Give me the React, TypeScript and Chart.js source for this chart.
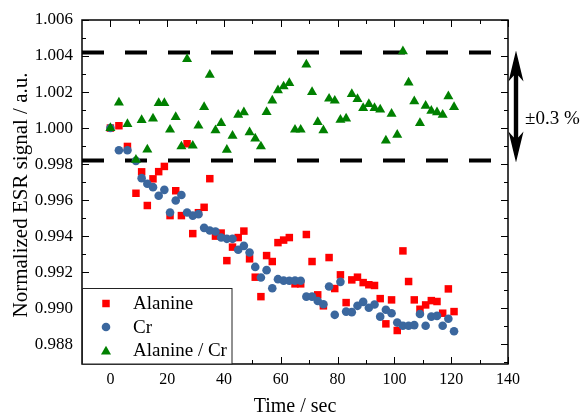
import React, { useEffect, useRef } from 'react';
import { Chart, registerables } from 'chart.js';

Chart.register(...registerables);

const FONT = '"Liberation Serif", "Times New Roman", serif';

const times = [
  0, 3, 6, 9, 11, 13, 15, 17, 19, 21, 23, 25, 27, 29, 31, 33, 35, 37, 39, 41,
  43, 45, 47, 49, 51, 53, 55, 57, 59, 61, 63, 65, 67, 69, 71, 73, 75, 77, 79, 81,
  83, 85, 87, 89, 91, 93, 95, 97, 99, 101, 103, 105, 107, 109, 111, 113, 115, 117, 119, 121,
];

const alanine = [
  1.0, 1.00013, 0.99898, 0.99638,
  0.99757, 0.9957, 0.99718, 0.99758, 0.99787,
  0.99514, 0.99652, 0.99514, 0.99913, 0.99414,
  0.9953, 0.9956, 0.99719, 0.994, 0.99417,
  0.99264, 0.99339, 0.99392, 0.99428, 0.99274,
  0.99172, 0.99064, 0.99292, 0.99259, 0.99364,
  0.99378, 0.99392, 0.99135, 0.99135, 0.99409,
  0.99259, 0.99074, 0.99013, 0.99281, 0.99109,
  0.99185, 0.99031, 0.99157, 0.99172, 0.99142,
  0.9913, 0.99126, 0.99053, 0.98913, 0.99046,
  0.98876, 0.99318, 0.99148, 0.99046, 0.98994,
  0.99018, 0.99042, 0.99037, 0.98972, 0.99107,
  0.98981,
];

const cr = [
  1.0, 0.99877, 0.99877, 0.99818,
  0.99722, 0.99691, 0.99672, 0.99624, 0.99657,
  0.99531, 0.99598, 0.99628, 0.99531, 0.99514,
  0.99522, 0.99446, 0.99431, 0.99426, 0.99392,
  0.99385, 0.99385, 0.99324, 0.99346, 0.99309,
  0.99229, 0.9917, 0.99211, 0.99111, 0.99161,
  0.99153, 0.99152, 0.99153, 0.99152, 0.99064,
  0.99064, 0.9904, 0.99022, 0.9912, 0.98963,
  0.99146, 0.98981, 0.98978, 0.99013, 0.99035,
  0.99002, 0.9902, 0.98953, 0.98991, 0.98972,
  0.9892, 0.98902, 0.98902, 0.98906, 0.98968,
  0.98902, 0.98953, 0.98957, 0.98902, 0.98941,
  0.98872,
];

const ratio = [
  1.0, 1.00142, 1.00022, 0.99824,
  1.00044, 0.99881, 1.00053, 1.00139, 1.00139,
  0.99991, 1.00061, 0.99898, 1.00383, 0.99902,
  1.00013, 1.00117, 1.00296, 0.99987, 1.00028,
  0.99879, 0.99957, 1.00074, 1.00087, 0.99976,
  0.99942, 0.99898, 1.00089, 1.00153, 1.00209,
  1.00231, 1.0025, 0.99991, 0.99991, 1.00352,
  1.002, 1.00033, 0.99987, 1.00163, 1.00152,
  1.00046, 1.00053, 1.00189, 1.00161, 1.00111,
  1.00133, 1.00111, 1.00103, 0.9993, 1.00079,
  0.99963, 1.00426, 1.00253, 1.00148, 1.00028,
  1.00124, 1.00096, 1.00087, 1.00074, 1.00176,
  1.00117,
];

const seriesLabels = ['Alanine', 'Cr', 'Alanine / Cr'];
const seriesColors = ['#ff0000', '#3b679e', '#008000'];

const xTickValues = [0, 20, 40, 60, 80, 100, 120, 140];
const xMinorValues = [10, 30, 50, 70, 90, 110, 130];
const yTickValues = [0.988, 0.99, 0.992, 0.994, 0.996, 0.998, 1.0, 1.002, 1.004, 1.006];
const yMinorValues = [0.987, 0.989, 0.991, 0.993, 0.995, 0.997, 0.999, 1.001, 1.003, 1.005];

const xMin = -10;
const xMax = 140;
const yMin = 0.9869;
const yMax = 1.006;

const limitUpper = 1.0042;
const limitLower = 0.9982;
const limitText = '±0.3 %';

const pts = (vals: number[]) => times.map((t, i) => ({ x: t, y: vals[i] }));

function drawMarker(ctx: CanvasRenderingContext2D, kind: number, x: number, y: number) {
  ctx.fillStyle = seriesColors[kind];
  ctx.beginPath();
  if (kind === 0) {
    const s = 5.3 * Math.SQRT1_2;
    ctx.rect(x - s, y - s, 2 * s, 2 * s);
  } else if (kind === 1) {
    ctx.arc(x, y, 4.3, 0, Math.PI * 2);
  } else {
    const r = 5.8;
    for (let k = 0; k < 3; k++) {
      const a = (k * 2 * Math.PI) / 3;
      const px = x + Math.sin(a) * r;
      const py = y - Math.cos(a) * r;
      if (k === 0) ctx.moveTo(px, py);
      else ctx.lineTo(px, py);
    }
    ctx.closePath();
  }
  ctx.fill();
}

const overlay = {
  id: 'overlay',
  afterDraw(chart: any) {
    const { ctx, chartArea } = chart;
    const { left, right, top, bottom } = chartArea;
    const xs = chart.scales.x;
    const ys = chart.scales.y;
    ctx.save();

    // inward ticks on all four sides
    ctx.strokeStyle = '#000';
    ctx.lineWidth = 1;
    const majorLen = 7;
    const minorLen = 4;
    const tickX = (v: number, len: number) => {
      const px = Math.round(xs.getPixelForValue(v)) + 0.5;
      ctx.beginPath();
      ctx.moveTo(px, bottom);
      ctx.lineTo(px, bottom - len);
      ctx.moveTo(px, top);
      ctx.lineTo(px, top + len);
      ctx.stroke();
    };
    const tickY = (v: number, len: number) => {
      const py = Math.round(ys.getPixelForValue(v)) + 0.5;
      if (py < top || py > bottom) return;
      ctx.beginPath();
      ctx.moveTo(left, py);
      ctx.lineTo(left + len, py);
      ctx.moveTo(right, py);
      ctx.lineTo(right - len, py);
      ctx.stroke();
    };
    xTickValues.forEach((v) => tickX(v, majorLen));
    xMinorValues.forEach((v) => tickX(v, minorLen));
    yTickValues.forEach((v) => tickY(v, majorLen));
    yMinorValues.forEach((v) => tickY(v, minorLen));

    // frame
    ctx.lineWidth = 1.5;
    ctx.strokeRect(left, top, right - left, bottom - top);

    // legend box
    const lgLeft = left;
    const lgTop = 288;
    const lgRight = 232;
    ctx.fillStyle = '#fff';
    ctx.fillRect(lgLeft, lgTop, lgRight - lgLeft, bottom - lgTop);
    ctx.lineWidth = 1;
    ctx.strokeStyle = '#222';
    ctx.strokeRect(lgLeft + 0.5, lgTop + 0.5, lgRight - lgLeft - 0.5, bottom - lgTop - 0.5);
    const rows = [303.5, 327, 350.5];
    ctx.font = `19px ${FONT}`;
    ctx.textBaseline = 'middle';
    ctx.textAlign = 'left';
    seriesLabels.forEach((lab, i) => {
      drawMarker(ctx, i, 106, rows[i] + (i === 2 ? 1 : 0));
      ctx.fillStyle = '#000';
      ctx.fillText(lab, 133, rows[i] + 1);
    });

    // double-headed arrow for the ±0.3 % band
    const cx = 516;
    const yTop = ys.getPixelForValue(limitUpper) - 2;
    const yBot = ys.getPixelForValue(limitLower) + 2;
    const hl = 31;
    const hw = 7.5;
    const sw = 2.2;
    ctx.fillStyle = '#000';
    ctx.beginPath();
    ctx.moveTo(cx, yTop);
    ctx.lineTo(cx + hw, yTop + hl);
    ctx.lineTo(cx + sw, yTop + hl - 6);
    ctx.lineTo(cx + sw, yBot - hl + 6);
    ctx.lineTo(cx + hw, yBot - hl);
    ctx.lineTo(cx, yBot);
    ctx.lineTo(cx - hw, yBot - hl);
    ctx.lineTo(cx - sw, yBot - hl + 6);
    ctx.lineTo(cx - sw, yTop + hl - 6);
    ctx.lineTo(cx - hw, yTop + hl);
    ctx.closePath();
    ctx.fill();

    ctx.font = `19px ${FONT}`;
    ctx.textAlign = 'left';
    ctx.textBaseline = 'middle';
    ctx.fillText(limitText, 525, 119);

    // y axis title
    ctx.translate(21, 195);
    ctx.rotate(-Math.PI / 2);
    ctx.font = `21px ${FONT}`;
    ctx.textAlign = 'center';
    ctx.textBaseline = 'middle';
    ctx.fillText('Normalized ESR signal / a.u.', 0, 0);

    ctx.restore();
  },
};

export default function App() {
  const ref = useRef<HTMLCanvasElement>(null);

  useEffect(() => {
    document.body.style.margin = '0';
    const canvas = ref.current;
    if (!canvas) return;
    const markerSet = (i: number, style: string, radius: number, order: number) => ({
      label: seriesLabels[i],
      data: [] as { x: number; y: number }[],
      pointStyle: style,
      pointRadius: radius,
      pointHoverRadius: radius,
      pointBackgroundColor: seriesColors[i],
      pointBorderColor: seriesColors[i],
      pointBorderWidth: 0,
      backgroundColor: seriesColors[i],
      borderColor: seriesColors[i],
      showLine: false,
      order,
    });
    const red = markerSet(0, 'rect', 5.3, 3);
    red.data = pts(alanine);
    const blue = markerSet(1, 'circle', 4.3, 2);
    blue.data = pts(cr);
    const green = markerSet(2, 'triangle', 5.8, 1);
    green.data = pts(ratio);
    const dashed = (v: number) => ({
      label: 'limit',
      data: [
        { x: xMin, y: v },
        { x: xMax, y: v },
      ],
      showLine: true,
      borderColor: '#000',
      borderWidth: 4,
      borderDash: [22, 21],
      borderCapStyle: 'butt',
      pointRadius: 0,
      pointHoverRadius: 0,
      fill: false,
      order: 5,
    });

    const chart = new Chart(canvas, {
      type: 'scatter',
      data: {
        datasets: [red, blue, green, dashed(limitUpper), dashed(limitLower)] as any,
      },
      options: {
        responsive: false,
        animation: false,
        devicePixelRatio: 1,
        layout: { padding: { left: 0, right: 73, top: 20, bottom: 0 } },
        plugins: {
          legend: { display: false },
          tooltip: { enabled: false },
        },
        scales: {
          x: {
            type: 'linear',
            min: xMin,
            max: xMax,
            afterBuildTicks: (s: any) => {
              s.ticks = xTickValues.map((v) => ({ value: v }));
            },
            afterFit: (s: any) => {
              s.height = 55;
            },
            grid: { display: false, drawTicks: false },
            border: { display: false },
            ticks: {
              autoSkip: false,
              maxRotation: 0,
              padding: 6,
              color: '#000',
              font: { family: FONT, size: 16 },
              callback: (v: any) => String(v),
            },
            title: {
              display: true,
              text: 'Time / sec',
              color: '#000',
              font: { family: FONT, size: 20 },
              padding: { top: 0, bottom: 0 },
            },
          },
          y: {
            type: 'linear',
            min: yMin,
            max: yMax,
            afterBuildTicks: (s: any) => {
              s.ticks = yTickValues.map((v) => ({ value: v }));
            },
            afterFit: (s: any) => {
              s.width = 82;
            },
            grid: { display: false, drawTicks: false },
            border: { display: false },
            ticks: {
              autoSkip: false,
              padding: 9,
              color: '#000',
              font: { family: FONT, size: 17 },
              callback: (v: any) => Number(v).toFixed(3),
            },
          },
        },
      } as any,
      plugins: [overlay],
    });
    return () => chart.destroy();
  }, []);

  return <canvas ref={ref} width={581} height={419} style={{ display: 'block' }} />;
}
